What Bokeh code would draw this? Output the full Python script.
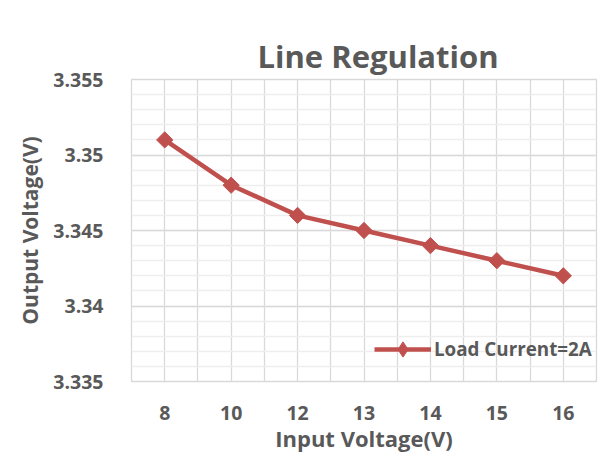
from bokeh.plotting import figure
from bokeh.models import FixedTicker, Range1d, Legend, LegendItem
from bokeh.embed import file_html
from bokeh.resources import INLINE
import numpy as np
import math

# ---- data ----
input_voltage = ["8", "10", "12", "13", "14", "15", "16"]
output_voltage = [3.351, 3.348, 3.346, 3.345, 3.344, 3.343, 3.342]
y_tick_labels = ["3.335", "3.34", "3.345", "3.35", "3.355"]
y_minor_step = 0.001
series_name = "Load Current=2A"

TEXT = "#595959"
RED = "#C0504D"
FONT = "Open Sans"

n = len(input_voltage)
xs = [i + 0.5 for i in range(n)]
y_ticks = [float(t) for t in y_tick_labels]
y_min, y_max = y_ticks[0], y_ticks[-1]
n_minor = int(round((y_max - y_min) / y_minor_step))
y_minor = [round(y_min + k * y_minor_step, 6) for k in range(n_minor + 1)]

p = figure(width=604, height=444, output_backend="svg", toolbar_location=None,
           x_range=Range1d(0, n), y_range=Range1d(y_min, y_max),
           frame_width=465, frame_height=302,
           min_border_left=131, min_border_top=79, min_border_right=8, min_border_bottom=40)

p.title.text = "Line Regulation"
p.title.align = "left"
p.title.offset = 126
p.title.text_font = FONT
p.title.text_font_size = "31px"
p.title.text_font_style = "bold"
p.title.text_color = TEXT
p.title.standoff = 5

p.outline_line_color = "#d9d9d9"
p.outline_line_width = 1.3

# x axis
p.xaxis.ticker = FixedTicker(ticks=xs)
p.xaxis.major_label_overrides = {x: lab for x, lab in zip(xs, input_voltage)}
p.xaxis.axis_label = "Input Voltage(V)"
# y axis
p.yaxis.ticker = FixedTicker(ticks=y_ticks, minor_ticks=y_minor)
p.yaxis.major_label_overrides = {v: lab for v, lab in zip(y_ticks, y_tick_labels)}
p.yaxis.axis_label = "Output Voltage(V)"

for ax in (p.xaxis, p.yaxis):
    ax.axis_line_color = None
    ax.major_tick_line_color = None
    ax.minor_tick_line_color = None
    ax.major_label_text_font = FONT
    ax.major_label_text_font_size = "19.5px"
    ax.major_label_text_font_style = "bold"
    ax.major_label_text_color = TEXT
    ax.axis_label_text_font = FONT
    ax.axis_label_text_font_style = "bold"
    ax.axis_label_text_color = TEXT
p.xaxis.axis_label_text_font_size = "22px"
p.yaxis.axis_label_text_font_size = "21px"
p.xaxis.major_label_standoff = 18
p.xaxis.axis_label_standoff = 0
p.yaxis.major_label_standoff = 22
p.yaxis.axis_label_standoff = 6

# grids
half = [k * 0.5 for k in range(2 * n + 1)]
p.xgrid.ticker = FixedTicker(ticks=half)
p.xgrid.grid_line_color = "#d9d9d9"
p.xgrid.grid_line_width = 1.3
p.ygrid.ticker = FixedTicker(ticks=y_ticks, minor_ticks=y_minor)
p.ygrid.grid_line_color = "#d9d9d9"
p.ygrid.grid_line_width = 1.3
p.ygrid.minor_grid_line_color = "#eeeeee"
p.ygrid.minor_grid_line_width = 1.3

line = p.line(xs, output_voltage, line_color=RED, line_width=4.5, line_join="round")
pts = p.scatter(xs, output_voltage, marker="square", size=11.5, angle=math.pi / 4,
                fill_color=RED, line_color=RED)
# legend sample marker (legend glyphs are never rotated, so use a diamond marker);
# it has no visible point in the plot itself
key = p.scatter(x=np.array([np.nan]), y=np.array([np.nan]), marker="diamond", size=12,
                fill_color=RED, line_color=RED, line_width=1)

legend = Legend(items=[LegendItem(label=series_name, renderers=[line, key])],
                location=(243, 13), orientation="vertical",
                background_fill_alpha=0, border_line_color=None,
                padding=0, margin=0, glyph_width=57, glyph_height=38,
                label_standoff=3, label_text_font=FONT, label_text_font_size="18.8px",
                label_text_font_style="bold", label_text_color=TEXT)
p.add_layout(legend, "center")

open("out.html", "w").write(file_html(p, INLINE))
